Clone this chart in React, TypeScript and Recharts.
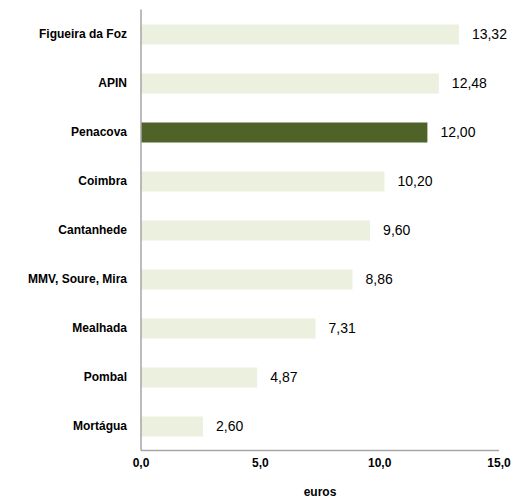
import React from 'react';
import { BarChart, Bar, XAxis, YAxis, Cell, LabelList } from 'recharts';

const categories = ['Figueira da Foz', 'APIN', 'Penacova', 'Coimbra', 'Cantanhede', 'MMV, Soure, Mira', 'Mealhada', 'Pombal', 'Mortágua'];
const values = [13.32, 12.48, 12.0, 10.2, 9.6, 8.86, 7.31, 4.87, 2.6];
const highlight = 'Penacova';
const xTicks = [0, 5, 10, 15];

const data = categories.map((c, i) => ({ name: c, value: values[i] }));
const fmt = (v: number, d: number) => v.toFixed(d).replace('.', ',');

export default function App() {
  return (
    <div style={{ position: 'absolute', left: 0, top: 0, width: 515, height: 499, background: '#fff' }}>
      <BarChart
        width={515}
        height={499}
        data={data}
        layout="vertical"
        margin={{ top: 9.5, right: 16, bottom: 0, left: 0 }}
        barCategoryGap={0}
      >
        <XAxis
          type="number"
          domain={[0, 15]}
          ticks={xTicks}
          tickFormatter={(v: number) => fmt(v, 1)}
          tickLine={false}
          axisLine={{ stroke: '#A6A6A6', strokeWidth: 1.5 }}
          tick={{ fontSize: 12, fontWeight: 'bold', fill: '#000', fontFamily: 'Liberation Sans, Arial, sans-serif' }}
          height={48.5}
          label={{ value: 'euros', position: 'insideBottom', offset: 3, fontSize: 12, fontWeight: 'bold', fill: '#000', fontFamily: 'Liberation Sans, Arial, sans-serif' }}
        />
        <YAxis
          type="category"
          dataKey="name"
          width={141}
          tickLine={false}
          tickMargin={8}
          axisLine={{ stroke: '#A6A6A6', strokeWidth: 1.5 }}
          tick={{ fontSize: 12, fontWeight: 'bold', fill: '#000', fontFamily: 'Liberation Sans, Arial, sans-serif' }}
          interval={0}
        />
        <Bar dataKey="value" barSize={20} isAnimationActive={false}>
          {data.map((d) => (
            <Cell key={d.name} fill={d.name === highlight ? '#4F6228' : '#EBF0DF'} />
          ))}
          <LabelList
            dataKey="value"
            position="right"
            offset={13}
            formatter={(v: number) => fmt(v, 2)}
            style={{ fontSize: 14, fill: '#000', fontFamily: 'Liberation Sans, Arial, sans-serif' }}
          />
        </Bar>
      </BarChart>
    </div>
  );
}
